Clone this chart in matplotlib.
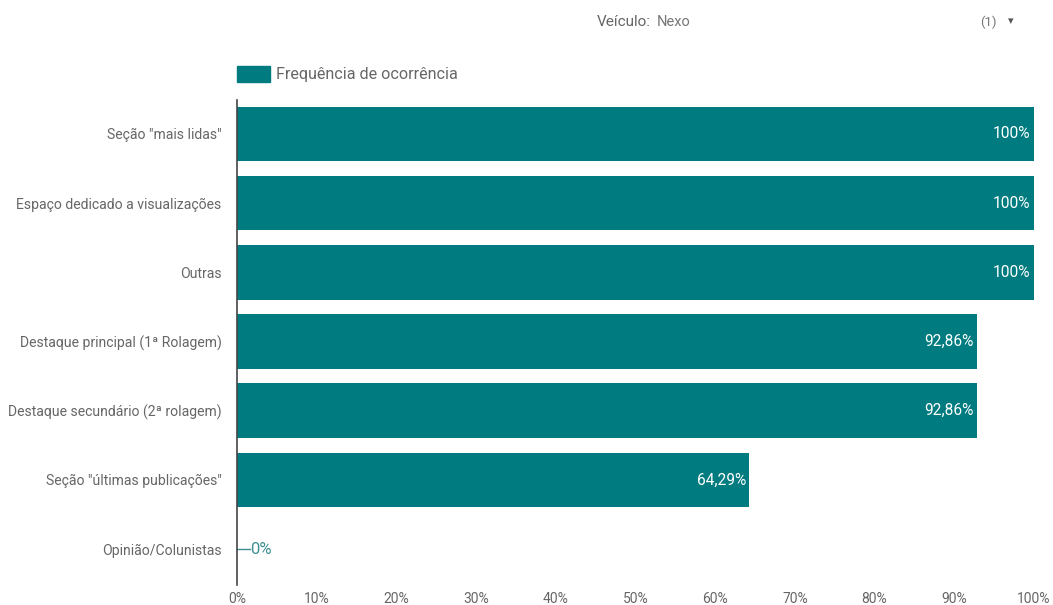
import matplotlib
matplotlib.use('Agg')
import matplotlib.pyplot as plt

plt.rcParams['font.family'] = ['Roboto', 'DejaVu Sans']

categories = [
    'Seção "mais lidas"',
    'Espaço dedicado a visualizações',
    'Outras',
    'Destaque principal (1ª Rolagem)',
    'Destaque secundário (2ª rolagem)',
    'Seção "últimas publicações"',
    'Opinião/Colunistas',
]
values = [100, 100, 100, 92.86, 92.86, 64.29, 0]
value_labels = ['100%', '100%', '100%', '92,86%', '92,86%', '64,29%', '0%']
xticks = [0, 10, 20, 30, 40, 50, 60, 70, 80, 90, 100]

TEAL = '#007b7f'
GREY = '#666666'

fig = plt.figure(figsize=(10.53, 6.05), dpi=100)
ax = fig.add_axes([237 / 1053, 1 - 585 / 605, (1034 - 237) / 1053, (585 - 100) / 605])

ypos = list(range(len(categories)))
ax.barh(ypos, values, height=0.79, color=TEAL)
ax.set_ylim(6.52, -0.49)
ax.set_xlim(0, 100)

ax.set_yticks(ypos)
ax.set_yticklabels(categories, fontsize=10.1, color=GREY)
ax.set_xticks(xticks)
ax.set_xticklabels([f'{t}%' for t in xticks], fontsize=10, color=GREY)
ax.tick_params(axis='y', length=0, pad=11)
ax.tick_params(axis='x', length=0, pad=5)

for s in ['top', 'right', 'bottom']:
    ax.spines[s].set_visible(False)
ax.spines['left'].set_color('#444444')
ax.spines['left'].set_linewidth(1.2)

for y, v, lab in zip(ypos, values, value_labels):
    if v > 5:
        ax.text(v - 0.45, y, lab, ha='right', va='center', color='white', fontsize=11.2)
    else:
        ax.plot([0, 1.6], [y, y], color='#3f8f91', lw=1.0, clip_on=False)
        ax.text(1.6, y, lab, ha='left', va='center', color='#3f8f91', fontsize=12)

# legend
fig.patches.append(plt.Rectangle((237 / 1053, 1 - 82 / 605), 33 / 1053, 16 / 605,
                                 transform=fig.transFigure, color=TEAL))
fig.text(276 / 1053, 1 - 74 / 605, 'Frequência de ocorrência', ha='left', va='center',
         fontsize=11.6, color=GREY)

# header
fig.text(597 / 1053, 1 - 22 / 605, 'Veículo:', ha='left', va='center', fontsize=11,
         color='#666666')
fig.text(657 / 1053, 1 - 22 / 605, 'Nexo', ha='left', va='center', fontsize=10.5,
         color='#777777')
fig.text(980 / 1053, 1 - 22 / 605, '(1)', ha='left', va='center', fontsize=9.5,
         color='#777777')
fig.text(1011 / 1053, 1 - 21 / 605, '▾', ha='center', va='center', fontsize=8,
         color='#555555', family=['DejaVu Sans'])

fig.savefig('out.png', dpi=100)
